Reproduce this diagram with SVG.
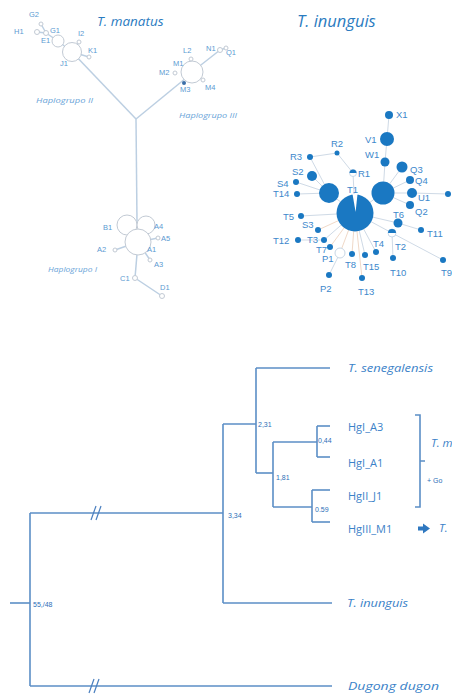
<svg xmlns="http://www.w3.org/2000/svg" width="452" height="694" viewBox="0 0 452 694">
<style>
.bg{fill:#ffffff}
.ml{stroke:#bccfe2;stroke-width:1.5;fill:none}
.mc{fill:#ffffff;stroke:#c2cad4;stroke-width:1}
.mt{font-family:"Liberation Sans",Arial,sans-serif;font-size:7.5px;fill:#5b9ad2}
.hg{font-family:"Open Sans","Liberation Sans",sans-serif;font-style:italic;font-size:7.5px;fill:#6aa4d8}
.title{font-family:"Open Sans","Liberation Sans",sans-serif;font-style:italic;fill:#2a7bbf}
.il{stroke:#cfdae6;stroke-width:1;fill:none}
.ip{stroke:#f0d9c8;stroke-width:1;fill:none}
.ic{fill:#1a78c2}
.it{font-family:"Liberation Sans",Arial,sans-serif;font-size:9.5px;fill:#3d88cc}
.tl{stroke:#5b8ec6;stroke-width:1.6;fill:none}
.nv{font-family:"Liberation Sans",Arial,sans-serif;font-size:7px;fill:#2d6fb8}
.tx{font-family:"Open Sans","Liberation Sans",sans-serif;font-size:11px;fill:#3b82c8}
.ti{font-family:"Open Sans","Liberation Sans",sans-serif;font-style:italic;font-size:11.5px;fill:#3b82c8}
</style>
<rect class="bg" x="0" y="0" width="452" height="694"/>

<!-- ===== T. manatus network ===== -->
<text class="title" x="97" y="26" font-size="13.5">T. manatus</text>
<g id="manatus-connectors">
  <line class="ml" x1="37" y1="32" x2="46" y2="33"/>
  <line class="ml" x1="41" y1="24" x2="46" y2="33"/>
  <line class="ml" x1="46" y1="33" x2="58" y2="41"/>
  <line class="ml" x1="58" y1="41" x2="72" y2="52"/>
  <line class="ml" x1="79" y1="42" x2="72" y2="52"/>
  <line class="ml" x1="89" y1="57" x2="72" y2="52"/>
  <line class="ml" x1="72" y1="52" x2="136" y2="119"/>
  <line class="ml" x1="136" y1="119" x2="186" y2="78"/>
  <line class="ml" x1="136" y1="119" x2="137" y2="222"/>
  <line class="ml" x1="192" y1="72" x2="220" y2="50"/>
  <line class="ml" x1="220" y1="50" x2="226" y2="48"/>
  <line class="ml" x1="138" y1="242" x2="158" y2="238"/>
  <line class="ml" x1="138" y1="242" x2="115" y2="250"/>
  <line class="ml" x1="138" y1="242" x2="150" y2="260"/>
  <line class="ml" x1="138" y1="242" x2="135" y2="278"/>
  <line class="ml" x1="135" y1="278" x2="162" y2="296"/>
</g>
<g id="m-H1"><circle class="mc" cx="37" cy="32" r="2.5"/><text class="mt" x="14" y="34">H1</text></g>
<g id="m-G2"><circle class="mc" cx="41" cy="24" r="2"/><text class="mt" x="29" y="17">G2</text></g>
<g id="m-G1"><circle class="mc" cx="46" cy="33" r="2.5"/><text class="mt" x="50" y="33">G1</text></g>
<g id="m-E1"><circle class="mc" cx="58" cy="41" r="6"/><text class="mt" x="41" y="43">E1</text></g>
<g id="m-J1"><circle class="mc" cx="72" cy="52" r="9.5"/><text class="mt" x="60" y="66">J1</text></g>
<g id="m-I2"><circle class="mc" cx="79" cy="42" r="2"/><text class="mt" x="78" y="36">I2</text></g>
<g id="m-K1"><circle class="mc" cx="89" cy="57" r="2"/><text class="mt" x="88" y="53">K1</text></g>
<text class="hg" x="36" y="103" textLength="57" lengthAdjust="spacingAndGlyphs">Haplogrupo  II</text>

<g id="m-M1"><circle class="mc" cx="192" cy="72" r="11"/><text class="mt" x="173" y="66">M1</text></g>
<g id="m-L2"><circle class="mc" cx="191" cy="59" r="2"/><text class="mt" x="183" y="53">L2</text></g>
<g id="m-M2"><circle class="mc" cx="175" cy="73" r="2"/><text class="mt" x="159" y="75">M2</text></g>
<g id="m-M3"><circle cx="184" cy="83" r="2" fill="#3a6ea8"/><text class="mt" x="180" y="92">M3</text></g>
<g id="m-M4"><circle class="mc" cx="203" cy="80" r="2"/><text class="mt" x="205" y="90">M4</text></g>
<g id="m-N1"><circle class="mc" cx="220" cy="50" r="2.5"/><text class="mt" x="206" y="51">N1</text></g>
<g id="m-Q1"><circle class="mc" cx="226" cy="48" r="2"/><text class="mt" x="226" y="55">Q1</text></g>
<text class="hg" x="179" y="118" textLength="58" lengthAdjust="spacingAndGlyphs">Haplogrupo  III</text>

<g id="m-B1"><circle class="mc" cx="127" cy="225" r="10"/><text class="mt" x="103" y="230">B1</text></g>
<g id="m-A4"><circle class="mc" cx="146" cy="225" r="9"/><text class="mt" x="154" y="229">A4</text></g>
<g id="m-A1"><circle class="mc" cx="138" cy="242" r="13"/><text class="mt" x="147" y="252">A1</text></g>
<g id="m-A5"><circle class="mc" cx="158" cy="238" r="2"/><text class="mt" x="161" y="241">A5</text></g>
<g id="m-A2"><circle class="mc" cx="115" cy="250" r="2"/><text class="mt" x="97" y="252">A2</text></g>
<g id="m-A3"><circle class="mc" cx="150" cy="260" r="2"/><text class="mt" x="154" y="267">A3</text></g>
<g id="m-C1"><circle class="mc" cx="135" cy="278" r="2.5"/><text class="mt" x="120" y="281">C1</text></g>
<g id="m-D1"><circle class="mc" cx="162" cy="296" r="2.5"/><text class="mt" x="160" y="290">D1</text></g>
<text class="hg" x="48" y="272" textLength="49" lengthAdjust="spacingAndGlyphs">Haplogrupo  I</text>

<!-- ===== T. inunguis network ===== -->
<text class="title" x="297" y="27" font-size="16.5">T. inunguis</text>
<g id="inunguis-connectors">
  <line class="il" x1="355" y1="213" x2="329" y2="193"/>
  <line class="il" x1="355" y1="213" x2="383" y2="193"/>
  <line class="il" x1="383" y1="193" x2="385" y2="162"/>
  <line class="il" x1="385" y1="162" x2="387" y2="139"/>
  <line class="il" x1="387" y1="139" x2="389" y2="115"/>
  <line class="il" x1="383" y1="193" x2="402" y2="167"/>
  <line class="il" x1="383" y1="193" x2="410" y2="180"/>
  <line class="il" x1="383" y1="193" x2="412" y2="193"/>
  <line class="il" x1="383" y1="193" x2="410" y2="205"/>
  <line class="il" x1="412" y1="193" x2="448" y2="194"/>
  <line class="il" x1="329" y1="193" x2="312" y2="176"/>
  <line class="il" x1="329" y1="193" x2="296" y2="182"/>
  <line class="il" x1="329" y1="193" x2="297" y2="194"/>
  <line class="il" x1="329" y1="193" x2="310" y2="157"/>
  <line class="il" x1="310" y1="157" x2="337" y2="153"/>
  <line class="il" x1="337" y1="153" x2="353" y2="173"/>
  <line class="il" x1="353" y1="173" x2="355" y2="213"/>
  <line class="il" x1="355" y1="213" x2="398" y2="223"/>
  <line class="il" x1="398" y1="223" x2="421" y2="230"/>
  <line class="il" x1="355" y1="213" x2="392" y2="233"/>
  <line class="il" x1="392" y1="233" x2="443" y2="260"/>
  <line class="il" x1="392" y1="233" x2="393" y2="258"/>
  <line class="il" x1="355" y1="213" x2="376" y2="252"/>
  <line class="il" x1="355" y1="213" x2="365" y2="255"/>
  <line class="ip" x1="355" y1="213" x2="352" y2="254"/>
  <line class="ip" x1="355" y1="213" x2="362" y2="278"/>
  <line class="ip" x1="355" y1="213" x2="340" y2="253"/>
  <line class="il" x1="340" y1="253" x2="329" y2="275"/>
  <line class="ip" x1="355" y1="213" x2="330" y2="247"/>
  <line class="il" x1="355" y1="213" x2="324" y2="240"/>
  <line class="il" x1="324" y1="240" x2="298" y2="240"/>
  <line class="ip" x1="355" y1="213" x2="318" y2="230"/>
  <line class="il" x1="355" y1="213" x2="301" y2="216"/>
</g>
<g id="i-T1"><circle class="ic" cx="355" cy="213" r="18.5"/><polygon points="352.5,194 357.5,194 355.6,212" fill="#ffffff"/><text class="it" x="347" y="193">T1</text></g>
<g id="i-HL"><circle class="ic" cx="329" cy="193" r="10"/></g>
<g id="i-HR"><circle class="ic" cx="383" cy="193" r="11.5"/></g>
<g id="i-X1"><circle class="ic" cx="389" cy="115" r="4"/><text class="it" x="396" y="118">X1</text></g>
<g id="i-V1"><text class="it" x="365" y="143">V1</text><circle class="ic" cx="387" cy="139" r="7"/></g>
<g id="i-W1"><circle class="ic" cx="385" cy="162" r="4.5"/><text class="it" x="365" y="158">W1</text></g>
<g id="i-R2"><circle class="ic" cx="337" cy="153" r="2.5"/><text class="it" x="331" y="147">R2</text></g>
<g id="i-R3"><circle class="ic" cx="310" cy="157" r="3"/><text class="it" x="290" y="160">R3</text></g>
<g id="i-S2"><circle class="ic" cx="312" cy="176" r="5"/><text class="it" x="292" y="175">S2</text></g>
<g id="i-R1"><circle cx="353" cy="173" r="3.5" fill="#ffffff" stroke="#bcd0e4" stroke-width="0.8"/><path d="M349.5,173 A3.5,3.5 0 0 1 356.5,173 Z" fill="#1a78c2"/><text class="it" x="358" y="177">R1</text></g>
<g id="i-Q3"><circle class="ic" cx="402" cy="167" r="5.5"/><text class="it" x="410" y="173">Q3</text></g>
<g id="i-Q4"><circle class="ic" cx="410" cy="180" r="4"/><text class="it" x="415" y="184">Q4</text></g>
<g id="i-S4"><circle class="ic" cx="296" cy="182" r="3"/><text class="it" x="277" y="187">S4</text></g>
<g id="i-T14"><circle class="ic" cx="297" cy="194" r="3"/><text class="it" x="273" y="197">T14</text></g>
<g id="i-U1"><circle class="ic" cx="412" cy="193" r="5"/><text class="it" x="418" y="201">U1</text></g>
<g id="i-U1b"><circle class="ic" cx="448" cy="194" r="3"/></g>
<g id="i-Q2"><circle class="ic" cx="410" cy="205" r="4"/><text class="it" x="415" y="215">Q2</text></g>
<g id="i-T6"><circle class="ic" cx="398" cy="223" r="4.5"/><text class="it" x="393" y="218">T6</text></g>
<g id="i-T5"><circle class="ic" cx="301" cy="216" r="3"/><text class="it" x="283" y="220">T5</text></g>
<g id="i-S3"><circle class="ic" cx="318" cy="230" r="3"/><text class="it" x="302" y="228">S3</text></g>
<g id="i-T11"><circle class="ic" cx="421" cy="230" r="3"/><text class="it" x="427" y="237">T11</text></g>
<g id="i-T2"><circle cx="392" cy="233" r="4" fill="#ffffff" stroke="#bcd0e4" stroke-width="0.8"/><path d="M388,233 A4,4 0 0 1 396,233 Z" fill="#1a78c2"/><text class="it" x="395" y="250">T2</text></g>
<g id="i-T12"><circle class="ic" cx="298" cy="240" r="3"/><text class="it" x="273" y="244">T12</text></g>
<g id="i-T3"><circle class="ic" cx="324" cy="240" r="3"/><text class="it" x="307" y="243">T3</text></g>
<g id="i-T7"><circle class="ic" cx="330" cy="247" r="3"/><text class="it" x="316" y="253">T7</text></g>
<g id="i-T4"><circle class="ic" cx="376" cy="252" r="3"/><text class="it" x="373" y="247">T4</text></g>
<g id="i-P1"><circle cx="340" cy="253" r="5" fill="#ffffff" stroke="#c8d6e4" stroke-width="1"/><text class="it" x="322" y="262">P1</text></g>
<g id="i-T8"><circle class="ic" cx="352" cy="254" r="3"/><text class="it" x="345" y="268">T8</text></g>
<g id="i-T15"><circle class="ic" cx="365" cy="255" r="3"/><text class="it" x="363" y="270">T15</text></g>
<g id="i-T10"><circle class="ic" cx="393" cy="258" r="3"/><text class="it" x="390" y="276">T10</text></g>
<g id="i-T9"><circle class="ic" cx="443" cy="260" r="3"/><text class="it" x="441" y="276">T9</text></g>
<g id="i-P2"><circle class="ic" cx="329" cy="275" r="3"/><text class="it" x="320" y="292">P2</text></g>
<g id="i-T13"><circle class="ic" cx="362" cy="278" r="3"/><text class="it" x="358" y="295">T13</text></g>

<!-- ===== Phylogenetic tree ===== -->
<g id="tree-connectors">
  <path class="tl" d="M10,603 H30"/>
  <path class="tl" d="M30,513 V686"/>
  <path class="tl" d="M30,513 H223"/>
  <path class="tl" d="M30,686 H332"/>
  <path class="tl" d="M223,424 V603"/>
  <path class="tl" d="M223,603 H332"/>
  <path class="tl" d="M223,424 H256"/>
  <path class="tl" d="M256,368 V473"/>
  <path class="tl" d="M256,368 H330"/>
  <path class="tl" d="M256,473 H273"/>
  <path class="tl" d="M273,442 V507"/>
  <path class="tl" d="M273,442 H317"/>
  <path class="tl" d="M273,507 H312"/>
  <path class="tl" d="M317,426 V457"/>
  <path class="tl" d="M317,426 H330"/>
  <path class="tl" d="M317,457 H330"/>
  <path class="tl" d="M312,490 V522"/>
  <path class="tl" d="M312,490 H330"/>
  <path class="tl" d="M312,522 H330"/>
  <g stroke="#4a7fbf" stroke-width="1.2">
    <line x1="91" y1="520" x2="96" y2="506"/>
    <line x1="96" y1="520" x2="101" y2="506"/>
    <line x1="89" y1="693" x2="94" y2="679"/>
    <line x1="94" y1="693" x2="99" y2="679"/>
  </g>
  <path class="tl" d="M415,415 H420 V507 H415 M420,461 H425"/>
  <path d="M418,526.5 H423 V523.5 L430,528.5 L423,533.5 V530.5 H418 Z" fill="#2f78c0"/>
</g>
<g id="n-root"><text class="nv" x="33" y="607">55,/48</text></g>
<g id="n-334"><text class="nv" x="228" y="518">3,34</text></g>
<g id="n-231"><text class="nv" x="258" y="427">2,31</text></g>
<g id="n-181"><text class="nv" x="276" y="480">1,81</text></g>
<g id="n-044"><text class="nv" x="318" y="443">0,44</text></g>
<g id="n-059"><text class="nv" x="315" y="512">0.59</text></g>
<g id="t-sen"><text class="ti" x="348" y="372" textLength="85" lengthAdjust="spacingAndGlyphs">T. senegalensis</text></g>
<g id="t-A3"><text class="tx" x="348" y="431">HgI_A3</text></g>
<g id="t-A1"><text class="tx" x="348" y="467">HgI_A1</text></g>
<g id="t-J1"><text class="tx" x="348" y="500">HgII_J1</text></g>
<g id="t-M1"><text class="tx" x="348" y="533">HgIII_M1</text></g>
<g id="t-inu"><text class="ti" x="347" y="607" textLength="61" lengthAdjust="spacingAndGlyphs">T. inunguis</text></g>
<g id="t-dug"><text class="ti" x="348" y="690" font-size="13" textLength="91" lengthAdjust="spacingAndGlyphs">Dugong dugon</text></g>
<g id="t-side">
  <text class="ti" x="431" y="447" font-size="10.5">T. m</text>
  <text class="nv" x="427" y="483" font-size="7.5">+ Go</text>
  <text class="ti" x="439" y="532">T.</text>
</g>
</svg>
